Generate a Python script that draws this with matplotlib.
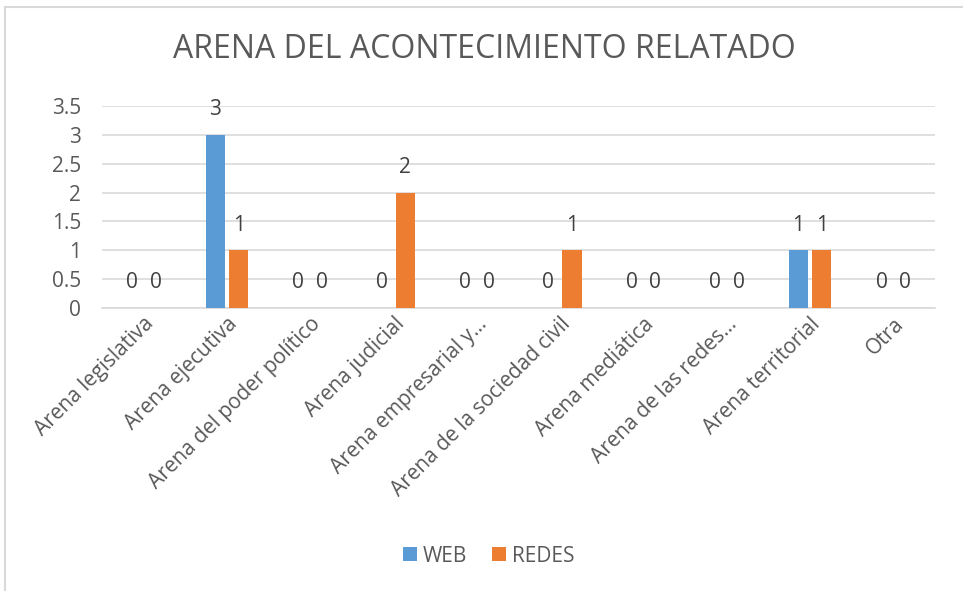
import matplotlib
matplotlib.use("Agg")
import matplotlib.pyplot as plt
from matplotlib.lines import Line2D
import numpy as np

plt.rcParams['font.family'] = ['Open Sans', 'DejaVu Sans']

categories = ["Arena legislativa", "Arena ejecutiva", "Arena del poder político",
              "Arena judicial", "Arena empresarial y…", "Arena de la sociedad civil",
              "Arena mediática", "Arena de las redes…", "Arena territorial", "Otra"]
web = [0, 3, 0, 0, 0, 0, 0, 0, 1, 0]
redes = [0, 1, 0, 2, 0, 1, 0, 0, 1, 0]
yticks = [0, 0.5, 1, 1.5, 2, 2.5, 3, 3.5]

W, H = 963, 591
fig = plt.figure(figsize=(W / 100, H / 100), dpi=100)
text_c = "#595959"
fs = 15

# outer border (chart area frame)
fig.add_artist(Line2D([5 / W, 5 / W], [0, 1 - 7 / H], color="#d9d9d9", lw=1.5))
fig.add_artist(Line2D([5 / W, 1], [1 - 7 / H, 1 - 7 / H], color="#d9d9d9", lw=1.5))

left, right = 102 / W, 935 / W
bottom, top = 1 - 308 / H, 1 - 106 / H
ax = fig.add_axes([left, bottom, right - left, top - bottom])

x = np.arange(len(categories))
bw = 0.23
off = 0.142
b1 = ax.bar(x - off, web, bw, color="#5b9bd5", label="WEB", zorder=3)
b2 = ax.bar(x + off, redes, bw, color="#ed7d31", label="REDES", zorder=3)

for xs, vals in ((x - off, web), (x + off, redes)):
    for xi, v in zip(xs, vals):
        ax.annotate(str(v), (xi, v), xytext=(0, 18), textcoords="offset points",
                    ha="center", va="center", fontsize=fs, color="#404040")

ax.set_xlim(-0.5, len(categories) - 0.5)
ax.set_ylim(0, 3.5)
ax.set_yticks(yticks)
ax.set_yticklabels([f"{t:g}" for t in yticks], fontsize=fs, color=text_c)
ax.yaxis.grid(True, color="#d9d9d9", lw=1.2, zorder=0)
ax.tick_params(axis="y", length=0, pad=15)
ax.tick_params(axis="x", length=0, pad=4)
ax.set_xticks(x)
ax.set_xticklabels(categories, rotation=45, ha="right", rotation_mode="anchor",
                   fontsize=fs, color=text_c)
for s in ["top", "right", "left"]:
    ax.spines[s].set_visible(False)
ax.spines["bottom"].set_color("#d9d9d9")
ax.spines["bottom"].set_linewidth(1.2)

fig.text(484 / W, 1 - 50 / H, "ARENA DEL ACONTECIMIENTO RELATADO", ha="center",
         va="center", fontsize=23, color=text_c)

fig.legend(handles=[b1, b2], loc="center", bbox_to_anchor=(489 / W, 1 - 556 / H),
           ncol=2, frameon=False, fontsize=fs, labelcolor=text_c,
           handlelength=0.65, handleheight=0.65, handletextpad=0.3, columnspacing=1.2)

fig.savefig("out.png", dpi=100)
